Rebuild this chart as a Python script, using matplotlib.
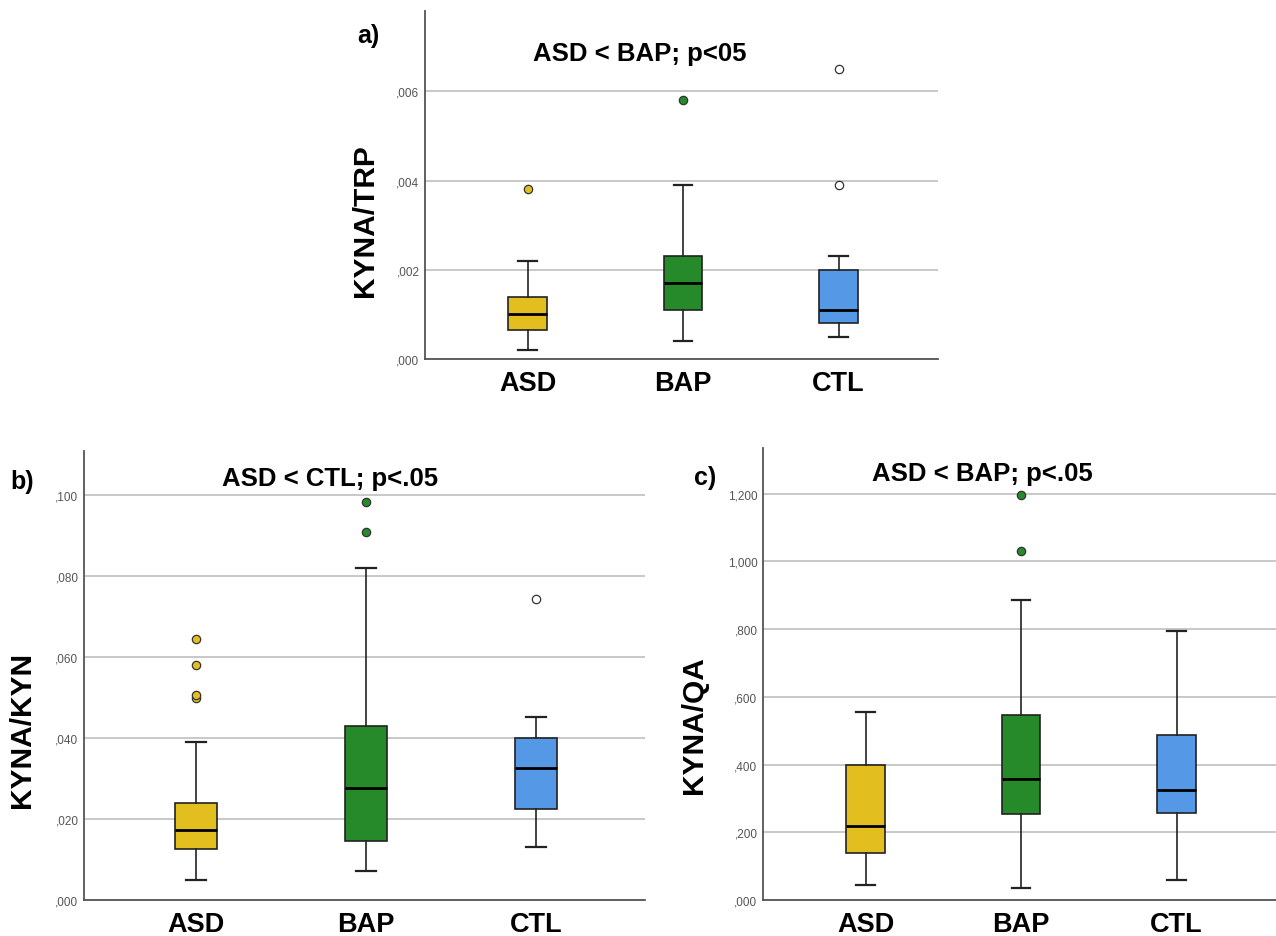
import matplotlib
matplotlib.use("Agg")
import matplotlib.pyplot as plt
from matplotlib.ticker import FuncFormatter, MultipleLocator

plt.rcParams["font.family"] = ["Liberation Sans", "DejaVu Sans"]

GROUPS = ["ASD", "BAP", "CTL"]
COLORS = ["#e2bf1e", "#268a2a", "#5599e6"]
FLIER_FACE = ["#e2bf1e", "#268a2a", "white"]

# box statistics: (whislo, q1, med, q3, whishi)
TRP_STATS = [(0.0002, 0.00065, 0.0010, 0.0014, 0.0022),
             (0.0004, 0.0011, 0.0017, 0.0023, 0.0039),
             (0.0005, 0.0008, 0.0011, 0.0020, 0.0023)]
TRP_FLIERS = [[0.0038], [0.0058], [0.0039, 0.0065]]

KYN_STATS = [(0.0050, 0.0125, 0.0172, 0.0240, 0.0390),
             (0.0072, 0.0145, 0.0277, 0.0430, 0.0820),
             (0.0132, 0.0225, 0.0327, 0.0400, 0.0453)]
KYN_FLIERS = [[0.0500, 0.0506, 0.0580, 0.0645], [0.0910, 0.0985], [0.0743]]

QA_STATS = [(0.045, 0.138, 0.220, 0.400, 0.555),
            (0.035, 0.255, 0.357, 0.545, 0.885),
            (0.060, 0.258, 0.325, 0.487, 0.795)]
QA_FLIERS = [[], [1.030, 1.195], []]


def fmt(x, _=None):
    s = f"{x:.3f}".replace(".", ",")
    if s.startswith("0,"):
        s = s[1:]
    return s


def panel(rect, stats, fliers, ymax, step, ylabel, lab_xy):
    ax = fig.add_axes(rect)
    bx = [dict(whislo=s[0], q1=s[1], med=s[2], q3=s[3], whishi=s[4], fliers=[])
          for s in stats]
    art = ax.bxp(bx, positions=[1, 2, 3], widths=0.25, patch_artist=True,
                 showfliers=False,
                 boxprops=dict(edgecolor="#222", linewidth=1.2),
                 medianprops=dict(color="black", linewidth=2),
                 whiskerprops=dict(color="#222", linewidth=1.2),
                 capprops=dict(color="#222", linewidth=1.6), capwidths=0.12)
    for b, c in zip(art["boxes"], COLORS):
        b.set_facecolor(c)
    for i, fl in enumerate(fliers):
        if fl:
            ax.plot([i + 1] * len(fl), fl, "o", ms=6, mfc=FLIER_FACE[i],
                    mec="#333", mew=0.9, zorder=4)
    ax.set_xlim(0.34, 3.64)
    ax.set_ylim(0, ymax)
    ax.yaxis.set_major_locator(MultipleLocator(step))
    ax.yaxis.set_major_formatter(FuncFormatter(fmt))
    ax.grid(axis="y", color="#c8c8c8", linewidth=1.4)
    ax.set_axisbelow(True)
    for s in ("top", "right"):
        ax.spines[s].set_visible(False)
    for s in ("left", "bottom"):
        ax.spines[s].set_color("#555")
        ax.spines[s].set_linewidth(1.3)
    ax.tick_params(axis="y", length=0, labelsize=8.5, labelcolor="#555", pad=4)
    ax.tick_params(axis="x", length=0, labelsize=19.5, pad=8)
    ax.set_xticks([1, 2, 3])
    ax.set_xticklabels(GROUPS, fontweight="bold")
    ax.set_ylabel(ylabel, fontsize=21.5, fontweight="bold")
    ax.yaxis.set_label_coords(*lab_xy)
    return ax


fig = plt.figure(figsize=(12.76, 9.37), dpi=100)

W, H = 1276, 937
def r(l, t, rr, b):
    return [l / W, 1 - b / H, (rr - l) / W, (b - t) / H]

axa = panel(r(425, 12, 938, 360), TRP_STATS, TRP_FLIERS, 0.0078, 0.002,
            "KYNA/TRP", (-0.090, 0.40))
axb = panel(r(84, 452, 645, 901), KYN_STATS, KYN_FLIERS, 0.111, 0.02,
            "KYNA/KYN", (-0.085, 0.38))
axc = panel(r(763, 449, 1276, 901), QA_STATS, QA_FLIERS, 1.335, 0.2,
            "KYNA/QA", (-0.107, 0.39))

def ftxt(x, y, s, size=18.5):
    fig.text(x / W, 1 - y / H, s, fontsize=size, fontweight="bold", ha="center", va="center")

ftxt(368, 36, "a)", 18)
ftxt(640, 54, "ASD < BAP; p<05")
ftxt(22, 482, "b)", 18)
ftxt(330, 479, "ASD < CTL; p<.05")
ftxt(705, 478, "c)", 18)
ftxt(982, 474, "ASD < BAP; p<.05")

fig.savefig("out.png", dpi=100)
